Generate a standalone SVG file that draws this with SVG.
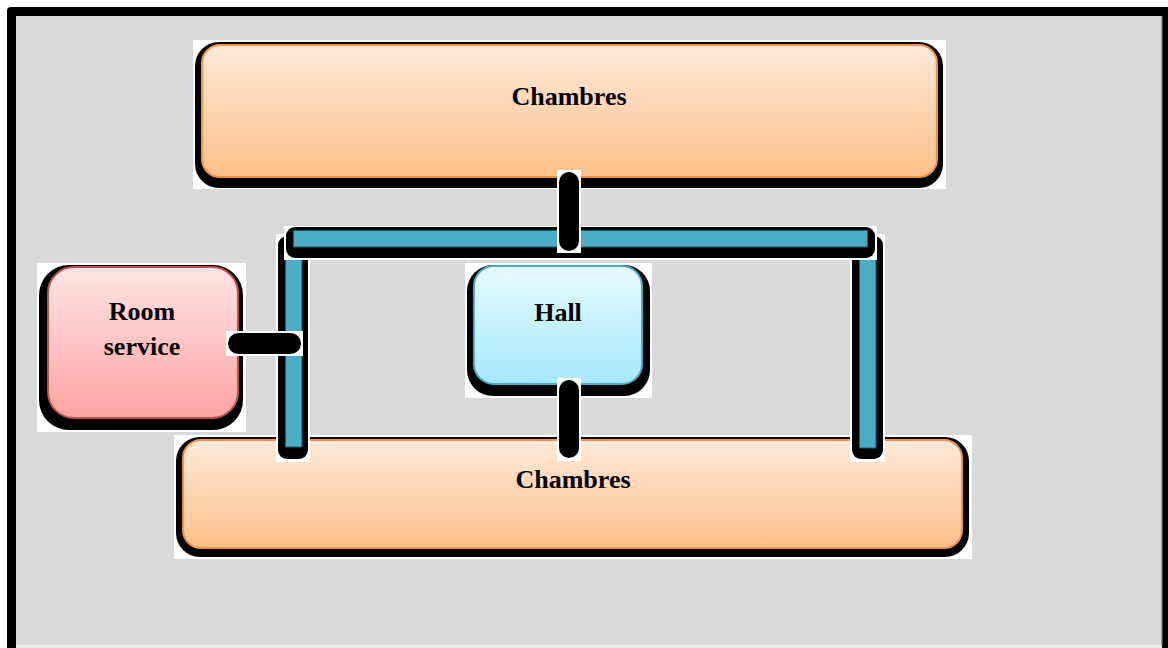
<svg xmlns="http://www.w3.org/2000/svg" width="1168" height="648" viewBox="0 0 1168 648">
<defs>
<linearGradient id="gOrange" x1="0" y1="0" x2="0" y2="1">
<stop offset="0" stop-color="#FFE9DA"/>
<stop offset="1" stop-color="#FFC08A"/>
</linearGradient>
<linearGradient id="gPink" x1="0" y1="0" x2="0" y2="1">
<stop offset="0" stop-color="#FFE4E4"/>
<stop offset="1" stop-color="#FFA4A4"/>
</linearGradient>
<linearGradient id="gBlue" x1="0" y1="0" x2="0" y2="1">
<stop offset="0" stop-color="#E6F9FF"/>
<stop offset="1" stop-color="#A6E9FC"/>
</linearGradient>
</defs>
<style>
.bg{fill:#FFFFFF}
.sh{fill:#000000}
.orange{fill:url(#gOrange);stroke:#F59241;stroke-width:2}
.pink{fill:url(#gPink);stroke:#C0504D;stroke-width:2}
.blue{fill:url(#gBlue);stroke:#4BACC6;stroke-width:2}
.bar{fill:#4BACC6;stroke:#1E5A6A;stroke-width:1}
.lbl{font-family:"Liberation Serif","Times New Roman",serif;font-weight:bold;font-size:26px;fill:#000;text-anchor:middle}
</style>
<rect x="0" y="0" width="1168" height="648" fill="#FFFFFF"/>
<rect x="7" y="7" width="1170" height="660" rx="4" fill="#000000"/>
<rect x="16" y="16" width="1145" height="629" fill="#D9D9D9"/>
<rect x="16" y="645" width="1146" height="3" fill="#EDEDED"/>
<rect x="1161" y="16" width="1.5" height="629" fill="#9A9A9A"/>

<g id="chambres-top">
<rect class="bg" x="193" y="40" width="753" height="149"/>
<rect class="sh" x="195" y="42" width="748" height="146" rx="24"/>
<rect class="orange" x="202" y="45" width="735" height="132" rx="18"/>
<text class="lbl" x="569" y="105">Chambres</text>
</g>

<g id="chambres-bottom">
<rect class="bg" x="174" y="435" width="798" height="124"/>
<rect class="sh" x="176" y="437" width="793" height="120" rx="24"/>
<rect class="orange" x="183" y="440" width="779" height="108" rx="18"/>
<text class="lbl" x="573" y="488">Chambres</text>
</g>

<g id="room-service">
<rect class="bg" x="37" y="263" width="209" height="169"/>
<rect class="sh" x="39" y="265" width="204" height="165" rx="30"/>
<rect class="pink" x="48" y="267" width="190" height="151" rx="26"/>
<text class="lbl" x="142" y="320">Room</text>
<text class="lbl" x="142" y="355">service</text>
</g>

<g id="hall">
<rect class="bg" x="465" y="263" width="187" height="135"/>
<rect class="sh" x="467" y="265" width="183" height="131" rx="26"/>
<rect class="blue" x="474" y="266" width="168" height="118" rx="20"/>
<text class="lbl" x="558" y="321">Hall</text>
</g>

<g id="connectors">
<g id="bar-left">
<rect class="bg" x="276" y="234" width="34" height="228"/>
<rect class="sh" x="278" y="236" width="30" height="223" rx="9"/>
<rect class="bar" x="285.5" y="240" width="16.5" height="207"/>
</g>
<g id="bar-right">
<rect class="bg" x="850" y="234" width="35" height="228"/>
<rect class="sh" x="852" y="236" width="31" height="223" rx="9"/>
<rect class="bar" x="859.5" y="240" width="16.5" height="208"/>
</g>
<g id="bar-top">
<rect class="bg" x="284" y="226" width="593" height="34"/>
<rect class="sh" x="286" y="227" width="589" height="31" rx="9"/>
<rect class="bar" x="293.5" y="230.5" width="574" height="16.5"/>
</g>
<g id="link-top">
<rect class="bg" x="557" y="170" width="24" height="83"/>
<rect class="sh" x="559" y="172" width="20" height="79" rx="10"/>
</g>
<g id="link-room">
<rect class="bg" x="226" y="331" width="77" height="25"/>
<rect class="sh" x="228" y="333" width="73" height="21" rx="10.5"/>
</g>
<g id="link-hall">
<rect class="bg" x="557" y="378" width="24" height="83"/>
<rect class="sh" x="559" y="380" width="20" height="78" rx="10"/>
</g>
</g>
</svg>
